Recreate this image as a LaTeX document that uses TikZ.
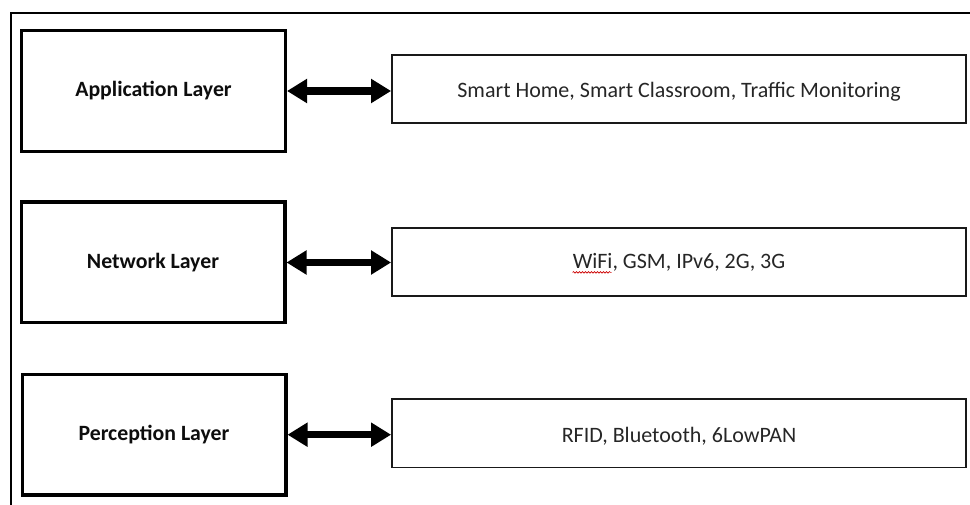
\documentclass[tikz,border=0pt]{standalone}
\usepackage{fontspec}
\setmainfont{Carlito}
\usetikzlibrary{arrows.meta,decorations.pathmorphing}
\tikzset{
  layerbox/.style={draw=black, line width=3.4pt, minimum width=263.6pt, minimum height=120.6pt, inner sep=0pt, font=\fontsize{21.8}{24}\selectfont\bfseries, text=black!95},
  techbox/.style={draw=black!90, line width=1.8pt, minimum width=574pt, minimum height=68.2pt, inner sep=0pt},
  techtext/.style={inner sep=0pt, font=\fontsize{22}{24}\selectfont, text=black!85},
  biarrow/.style={line width=7.5pt, {Triangle[length=20pt,width=23pt]}-{Triangle[length=20pt,width=23pt]}},
  frameline/.style={draw=black, line width=1.3pt}
}
\begin{document}
\begin{tikzpicture}[x=1pt,y=-1pt]
\useasboundingbox (0,0) rectangle (970,505);
% frame (open at right and bottom)
\coordinate (fr) at (972,13);
\coordinate (fc) at (11,13);
\coordinate (fb) at (11,507);
\draw[frameline] (fr) -- (fc) -- (fb);
% left layer boxes
\node[layerbox] (app) at (153.5,91) {Application Layer};
\node[layerbox] (net) at (153,262.5) {Network Layer};
\node[layerbox] (per) at (154,434.7) {Perception Layer};
% right technology boxes
\node[techbox] (appr) at (679,89.2) {};
\node[techtext, yshift=-2.5pt] (appt) at (appr.center) {Smart Home, Smart Classroom, Traffic Monitoring};
\node[techbox] (netr) at (679,262.2) {};
\node[techtext] (nett) at (netr.center) {WiFi, GSM, IPv6, 2G, 3G};
\node[techbox] (perr) at (679,433.3) {};
\node[techtext, yshift=-2.5pt] (pert) at (perr.center) {RFID, Bluetooth, 6LowPAN};
% spell-check squiggle under WiFi
\draw[red!80!black, line width=0.6pt, decorate, decoration={snake, amplitude=0.8pt, segment length=3pt}] ([yshift=-4pt]nett.base west) -- ++(39,0);
% arrows
\draw[biarrow] (app.east) -- (app.east -| appr.west);
\draw[biarrow] (net.east) -- (net.east -| netr.west);
\draw[biarrow] (per.east) -- (per.east -| perr.west);
\end{tikzpicture}
\end{document}
